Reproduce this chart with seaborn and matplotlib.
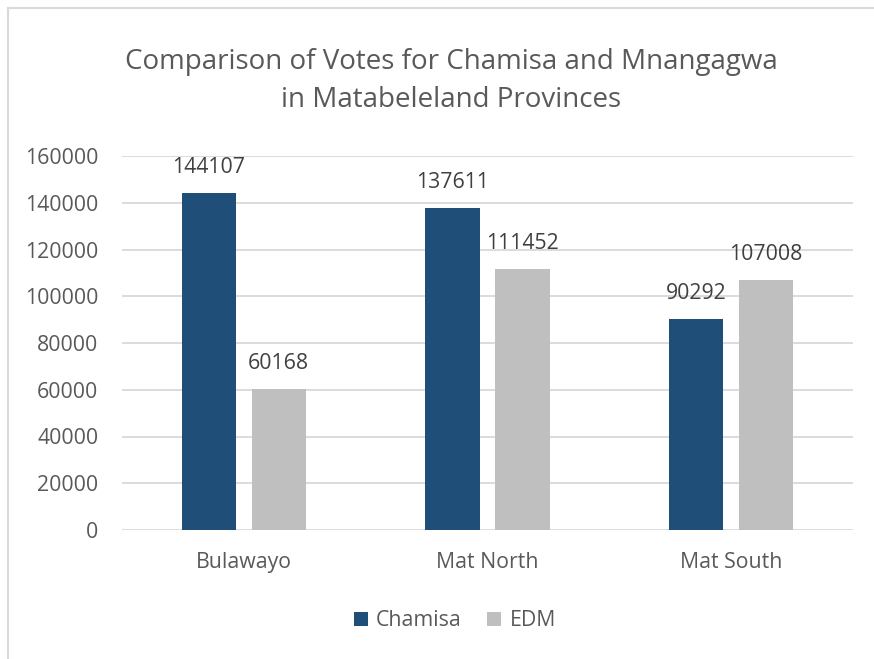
import matplotlib
matplotlib.use("Agg")
import matplotlib.pyplot as plt
import seaborn as sns
import pandas as pd
from matplotlib.lines import Line2D
from matplotlib.patches import Patch

# Vote totals per province
provinces = ["Bulawayo", "Mat North", "Mat South"]
chamisa_votes = [144107, 137611, 90292]
edm_votes = [60168, 111452, 107008]
series_names = ["Chamisa", "EDM"]
y_ticks = [0, 20000, 40000, 60000, 80000, 100000, 120000, 140000, 160000]

df = pd.DataFrame({
    "Province": provinces * 2,
    "Votes": chamisa_votes + edm_votes,
    "Candidate": [series_names[0]] * 3 + [series_names[1]] * 3,
})

sns.set_theme(style="white")
plt.rcParams["font.family"] = ["Open Sans", "DejaVu Sans"]

W, H = 874, 659
fig = plt.figure(figsize=(W / 100, H / 100), dpi=100)
ax = fig.add_axes([122 / W, 1 - 530 / H, (853 - 122) / W, (530 - 156) / H])

palette = {"Chamisa": "#1F4E79", "EDM": "#BFBFBF"}
sns.barplot(data=df, x="Province", y="Votes", hue="Candidate", palette=palette,
            width=0.574, gap=0.22, saturation=1, ax=ax, legend=False,
            edgecolor="none", zorder=3)

ax.set_ylim(0, 160000)
ax.set_xlim(-0.5, 2.5)
ax.set_yticks(y_ticks)
ax.set_yticklabels([str(v) for v in y_ticks])
ax.grid(axis="y", color="#D9D9D9", linewidth=1.3, zorder=0)
ax.set_axisbelow(True)
for s in ax.spines.values():
    s.set_visible(False)
ax.set_xlabel("")
ax.set_ylabel("")
ax.tick_params(axis="both", length=0, labelsize=15.3, colors="#595959")
ax.tick_params(axis="y", pad=17)
ax.tick_params(axis="x", pad=16)

for cont in ax.containers:
    ax.bar_label(cont, labels=[f"{int(v)}" for v in cont.datavalues],
                 padding=11, fontsize=15.3, color="#404040")

fig.text(451 / W, 1 - 62 / H, "Comparison of Votes for Chamisa and Mnangagwa",
         ha="center", va="center", fontsize=20, color="#595959")
fig.text(451 / W, 1 - 100 / H, "in Matabeleland Provinces",
         ha="center", va="center", fontsize=20, color="#595959")

handles = [Patch(facecolor=palette[n], edgecolor="none") for n in series_names]
fig.legend(handles, series_names, loc="center", bbox_to_anchor=(455 / W, 1 - 621 / H),
           ncol=2, frameon=False, fontsize=15.3, labelcolor="#595959",
           handlelength=0.65, handleheight=0.65, handletextpad=0.4, columnspacing=1.2)

# outer chart frame
fig.add_artist(Line2D([7.5 / W, 7.5 / W], [0, 1 - 7.5 / H], color="#D9D9D9", lw=1.5,
                      transform=fig.transFigure))
fig.add_artist(Line2D([7.5 / W, 1], [1 - 7.5 / H, 1 - 7.5 / H], color="#D9D9D9", lw=1.5,
                      transform=fig.transFigure))

fig.savefig("out.png", dpi=100)
